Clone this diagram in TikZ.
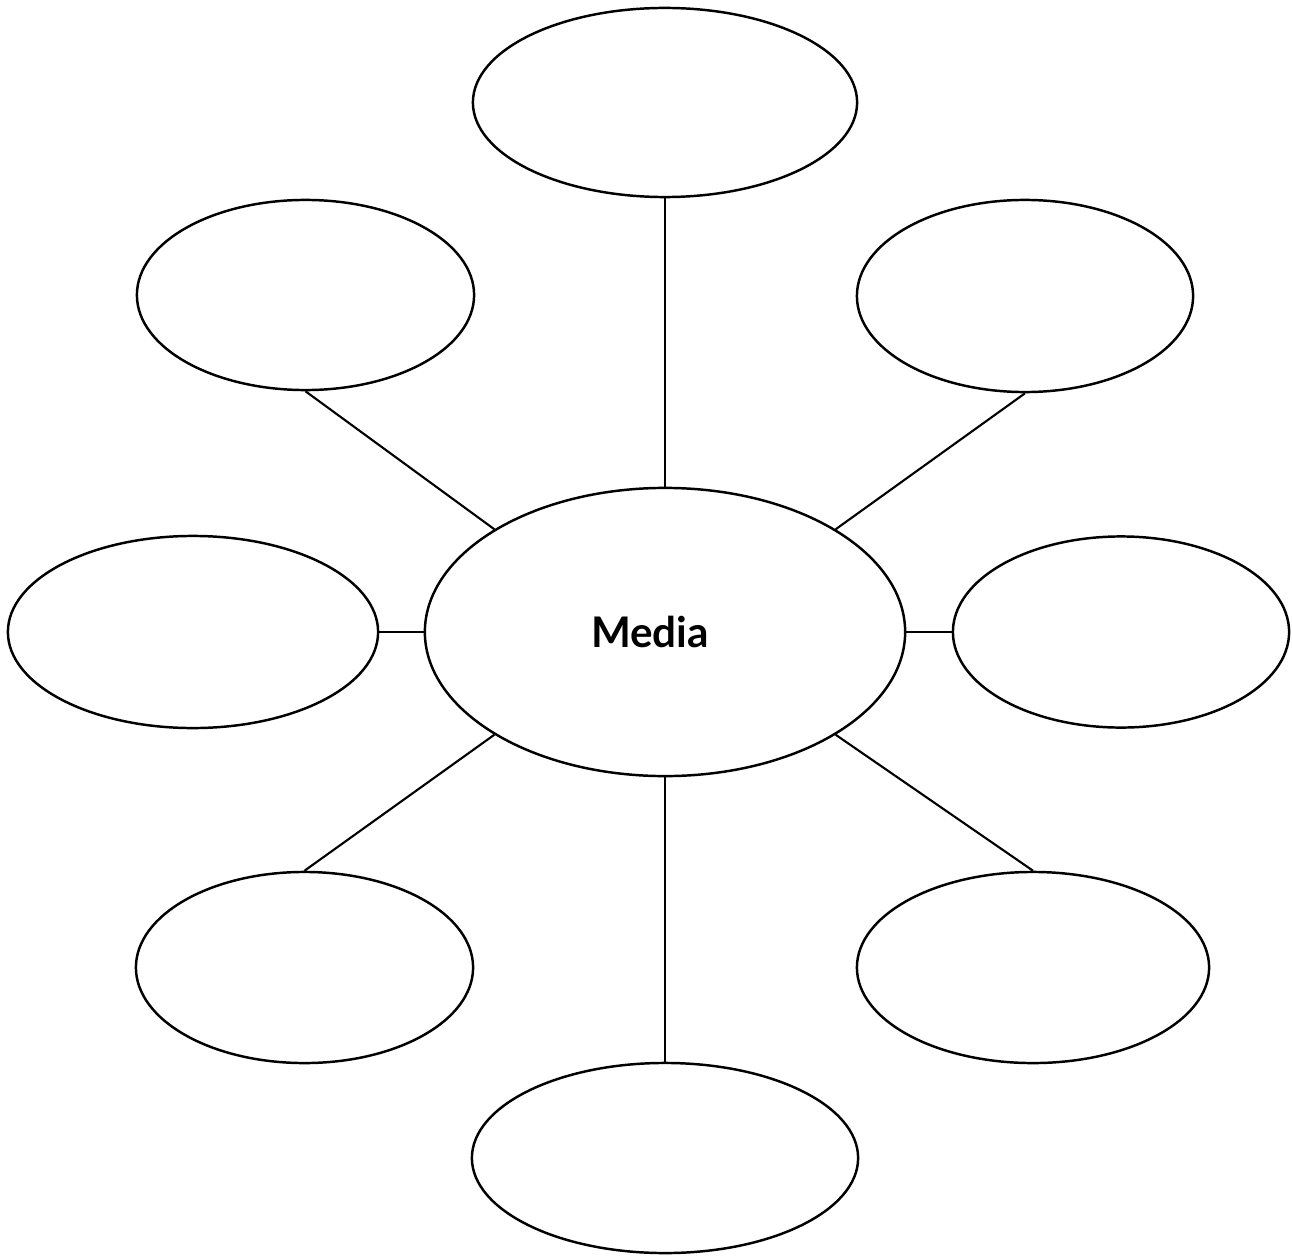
\documentclass[tikz,border=0pt]{standalone}
\usepackage{fontspec}
\setmainfont{Lato}
\usetikzlibrary{shapes.geometric}

\begin{document}
\begin{tikzpicture}[
	x=0.01cm, y=-0.01cm,
	% Styles
	bubble/.style={draw=black, line width=0.7pt, ellipse, inner sep=0pt},
	hub/.style={bubble, font=\bfseries\fontsize{12}{14}\selectfont},
	spoke/.style={draw=black, line width=0.6pt}
	]
	
	\useasboundingbox (0, 0) rectangle (1292, 1255);
	
	% ==========================================
	% Centre: Media
	% ==========================================
	\node[hub, minimum width=48mm, minimum height=28.8mm] (media) at (665, 632) {Media\hspace*{3mm}};
	
	% ==========================================
	% Outer bubbles
	% ==========================================
	\node[bubble, minimum width=38.4mm, minimum height=18.9mm] (topB) at (665, 102.5) {};
	\node[bubble, minimum width=33.7mm, minimum height=19mm] (topLeft) at (305.5, 295) {};
	\node[bubble, minimum width=33.6mm, minimum height=19.2mm] (topRight) at (1025, 296) {};
	\node[bubble, minimum width=37mm, minimum height=19.2mm] (leftB) at (193, 632) {};
	\node[bubble, minimum width=33.6mm, minimum height=19.1mm] (rightB) at (1121, 632) {};
	\node[bubble, minimum width=33.7mm, minimum height=19.1mm] (botLeft) at (304.5, 967.5) {};
	\node[bubble, minimum width=35.2mm, minimum height=19.1mm] (botRight) at (1033, 967.5) {};
	\node[bubble, minimum width=38.6mm, minimum height=19mm] (botB) at (665, 1158) {};
	
	% Spokes
	\draw[spoke] (topB.south) -- (media.north);
	\draw[spoke] (topLeft.south) -- (media.north west);
	\draw[spoke] (topRight.south) -- (media.north east);
	\draw[spoke] (leftB.east) -- (media.west);
	\draw[spoke] (rightB.west) -- (media.east);
	\draw[spoke] (media.south west) -- (botLeft.north);
	\draw[spoke] (media.south east) -- (botRight.north);
	\draw[spoke] (media.south) -- (botB.north);
	
\end{tikzpicture}
\end{document}
